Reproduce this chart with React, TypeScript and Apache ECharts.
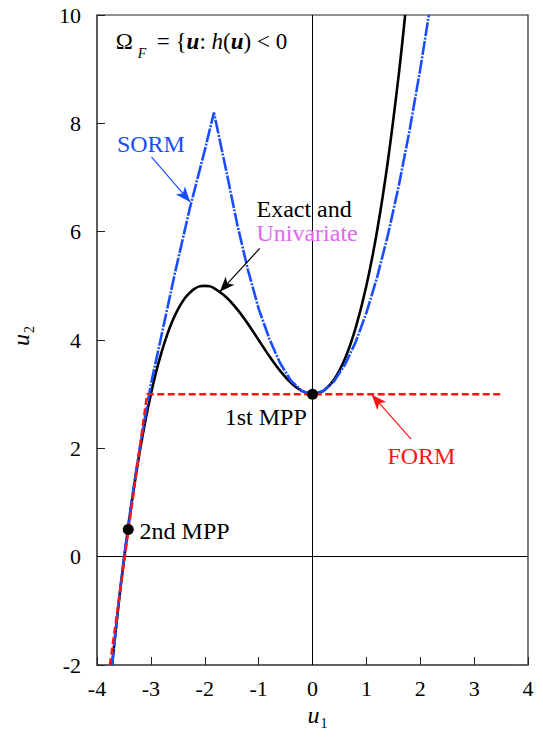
import React, { useEffect, useRef } from 'react';
import * as echarts from 'echarts';

const FONT = '"Liberation Serif", "Times New Roman", serif';

// Axis ranges
const X_MIN = -4, X_MAX = 4, X_STEP = 1;
const Y_MIN = -2, Y_MAX = 10, Y_STEP = 2;

// Exact limit-state curve (black)
const exactU1 = [-3.72, -3.6, -3.5, -3.4, -3.3, -3.2, -3.1, -3.0, -2.9, -2.8, -2.7, -2.6, -2.5, -2.4, -2.3, -2.2, -2.1, -2.0, -1.9, -1.8, -1.6, -1.4, -1.2, -1.0, -0.8, -0.6, -0.4, -0.2, 0, 0.2, 0.4, 0.6, 0.8, 1.0, 1.2, 1.4, 1.6, 1.72];
const exactU2 = [-2.0, -0.89, -0.06, 0.69, 1.37, 1.98, 2.52, 3.0, 3.42, 3.78, 4.09, 4.35, 4.56, 4.73, 4.85, 4.94, 4.99, 5.0, 4.99, 4.94, 4.79, 4.57, 4.30, 4.0, 3.70, 3.43, 3.21, 3.06, 3.0, 3.06, 3.27, 3.65, 4.22, 5.0, 6.02, 7.31, 8.89, 10.0];

// SORM approximation (blue dash-dot)
const sormU1 = [-3.72, -3.6, -3.5, -3.4, -3.3, -3.2, -3.1, -3.0, -2.8, -2.55, -2.28, -2.0, -1.83, -1.6, -1.4, -1.2, -1.0, -0.8, -0.6, -0.4, -0.2, 0, 0.2, 0.4, 0.6, 0.8, 1.0, 1.2, 1.4, 1.6, 1.8, 2.0, 2.16];
const sormU2 = [-2.0, -0.85, -0.02, 0.72, 1.42, 2.05, 2.62, 3.18, 4.1, 5.25, 6.42, 7.5, 8.2, 7.12, 6.15, 5.3, 4.58, 4.02, 3.57, 3.25, 3.06, 3.0, 3.06, 3.24, 3.54, 3.96, 4.5, 5.16, 5.94, 6.84, 7.86, 9.0, 10.0];

// FORM approximation (red dashed)
const formU1 = [-3.76, -3.07, 3.55];
const formU2 = [-2.0, 3.0, 3.0];

// Most probable points
const mppU1 = [0, -3.42];
const mppU2 = [3.0, 0.5];

const BLUE = '#1a4dff';
const RED = '#ff1414';
const MAGENTA = '#e066f2';

const zip = (a: number[], b: number[]) => a.map((v, i) => [v, b[i]]);

export default function App() {
  const ref = useRef<HTMLDivElement>(null);
  useEffect(() => {
    if (!ref.current) return;
    const chart = echarts.init(ref.current, null, { renderer: 'svg' });
    const option: any = {
      animation: false,
      grid: { left: 97, right: 15, top: 15, bottom: 76, show: true, borderColor: '#222', borderWidth: 1.2 },
      xAxis: {
        type: 'value', min: X_MIN, max: X_MAX, interval: X_STEP,
        axisLine: { show: true, onZero: false, lineStyle: { color: '#555', width: 1.5 } },
        axisTick: { show: true, inside: true, length: 8, lineStyle: { color: '#222', width: 1 } },
        axisLabel: { fontSize: 22, fontFamily: FONT, color: '#000', margin: 12 },
        splitLine: { show: false },
      },
      yAxis: {
        type: 'value', min: Y_MIN, max: Y_MAX, interval: Y_STEP,
        axisLine: { show: true, onZero: false, lineStyle: { color: '#555', width: 1.5 } },
        axisTick: { show: true, inside: true, length: 8, lineStyle: { color: '#222', width: 1 } },
        axisLabel: { fontSize: 22, fontFamily: FONT, color: '#000', margin: 16 },
        splitLine: { show: false },
      },
      series: [
        {
          name: 'zero', type: 'line', data: [], silent: true,
          markLine: {
            silent: true, z: 1, symbol: ['none', 'none'], label: { show: false },
            lineStyle: { color: '#000', width: 1, type: 'solid' },
            data: [{ xAxis: 0 }, { yAxis: 0 }],
          },
        },
        {
          name: 'Exact', type: 'line', data: zip(exactU1, exactU2), smooth: 0.3, showSymbol: false, symbol: 'none', z: 2,
          lineStyle: { color: '#000', width: 2.6 },
        },
        {
          name: 'SORM', type: 'line', data: zip(sormU1, sormU2), smooth: false, showSymbol: false, symbol: 'none', z: 3,
          lineStyle: { color: BLUE, width: 2.6, type: [14, 1.5, 2, 1.5] },
        },
        {
          name: 'FORM', type: 'line', data: zip(formU1, formU2), showSymbol: false, symbol: 'none', z: 4,
          lineStyle: { color: RED, width: 2.5, type: [7, 3.5] },
        },
        {
          name: 'MPP', type: 'scatter', data: zip(mppU1, mppU2), symbolSize: 11, z: 5,
          itemStyle: { color: '#000', opacity: 1 },
          markLine: {
            silent: true, z: 6, symbol: ['none', 'arrow'], symbolSize: [9, 15], label: { show: false },
            lineStyle: { width: 1.2, type: 'solid' },
            data: [
              [{ coord: [-2.99, 7.38], lineStyle: { color: BLUE, width: 1.2, type: 'solid' } }, { coord: [-2.27, 6.55] }],
              [{ coord: [-0.98, 5.69], lineStyle: { color: '#000', width: 1.2, type: 'solid' } }, { coord: [-1.72, 4.89] }],
              [{ coord: [1.83, 2.17], lineStyle: { color: RED, width: 1.2, type: 'solid' } }, { coord: [1.1, 2.99] }],
            ],
          },
        },
      ],
    };
    chart.setOption(option);

    const toPx = (p: number[]) => chart.convertToPixel({ gridIndex: 0 }, p) as number[];
    const notes = [
      { text: 'SORM', u1: -3.63, u2: 7.47, color: BLUE },
      { text: 'Exact and', u1: -1.04, u2: 6.27, color: '#000' },
      { text: 'Univariate', u1: -1.04, u2: 5.83, color: MAGENTA },
      { text: '1st MPP', u1: -1.63, u2: 2.43, color: '#000' },
      { text: 'FORM', u1: 1.39, u2: 1.71, color: RED },
      { text: '2nd MPP', u1: -3.21, u2: 0.32, color: '#000' },
    ];
    const FS = 24;
    const graphics: any[] = notes.map((n) => {
      const [px, py] = toPx([n.u1, n.u2]);
      return {
        type: 'text', x: px, y: py - 0.34 * FS, z: 10, silent: true,
        style: { text: n.text, fill: n.color, fontSize: FS, fontFamily: FONT, align: 'left', verticalAlign: 'middle' },
      };
    });

    // Formula Ω_F = {u: h(u) < 0
    const [fx, fy] = toPx([-3.65, 9.36]);
    const FF = 23;
    graphics.push({
      type: 'text', x: fx, y: fy - 0.34 * FF, z: 10, silent: true,
      style: { text: 'Ω', fill: '#000', fontSize: FF, fontFamily: FONT, align: 'left', verticalAlign: 'middle' },
    });
    graphics.push({
      type: 'text', x: fx + 22, y: fy + 9 - 0.34 * 14, z: 10, silent: true,
      style: { text: 'F', fill: '#000', fontSize: 14, fontStyle: 'italic', fontFamily: FONT, align: 'left', verticalAlign: 'middle' },
    });
    const tokenStyle = { fontSize: FF, fontFamily: FONT, color: '#000' };
    graphics.push({
      type: 'text', x: fx + 41, y: fy - 0.34 * FF, z: 10, silent: true,
      style: {
        text: '{n|= {}{b|u}{n|: }{i|h}{n|(}{b|u}{n|) < 0}',
        fontSize: FF, fontFamily: FONT, fill: '#000', align: 'left', verticalAlign: 'middle',
        rich: {
          n: { ...tokenStyle },
          b: { ...tokenStyle, fontStyle: 'italic', fontWeight: 'bold' },
          i: { ...tokenStyle, fontStyle: 'italic' },
        },
      },
    });

    // Axis names u1, u2
    const mkName = (x: number, y: number, sub: string, rotation: number) => ({
      type: 'group', x, y, rotation, silent: true, z: 10,
      children: [
        { type: 'text', x: 0, y: -0.34 * 24, style: { text: 'u', fill: '#000', fontSize: 24, fontStyle: 'italic', fontFamily: FONT, align: 'left', verticalAlign: 'middle' } },
        { type: 'text', x: 13, y: 5 - 0.34 * 14, style: { text: sub, fill: '#000', fontSize: 14, fontFamily: FONT, align: 'left', verticalAlign: 'middle' } },
      ],
    });
    const [cx, by] = toPx([0, Y_MIN]);
    const [lx, cy] = toPx([X_MIN, 4]);
    graphics.push(mkName(cx - 5, by + 58, '1', 0));
    graphics.push(mkName(lx - 68, cy + 6, '2', Math.PI / 2));

    chart.setOption({ graphic: graphics });
    return () => chart.dispose();
  }, []);
  return <div ref={ref} style={{ position: 'absolute', left: 0, top: 0, width: 543, height: 741 }} />;
}
